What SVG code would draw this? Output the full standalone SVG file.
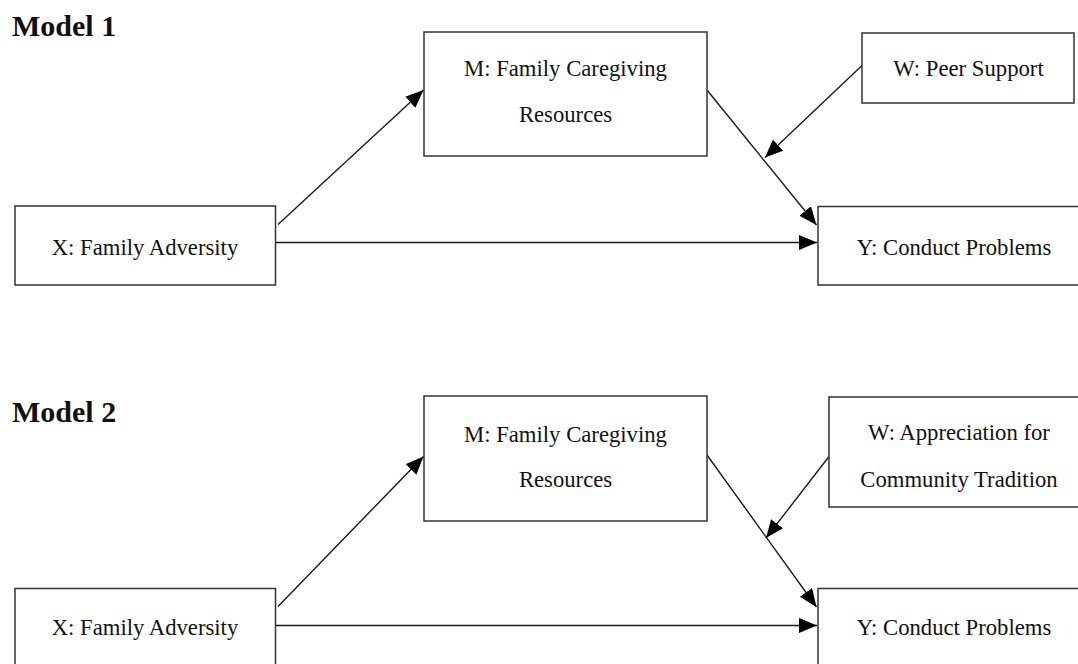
<svg xmlns="http://www.w3.org/2000/svg" width="1078" height="664" viewBox="0 0 1078 664">
<defs>
<style>
.box{fill:#fff;stroke:#333;stroke-width:1.5}
.lbl{font-family:"Liberation Serif","Times New Roman",serif;font-size:22.7px;fill:#111;text-anchor:middle}
.ttl{font-family:"Liberation Serif","Times New Roman",serif;font-size:30px;font-weight:bold;fill:#111}
.edge{stroke:#1a1a1a;stroke-width:1.4;fill:none;marker-end:url(#ah)}
</style>
<marker id="ah" markerUnits="userSpaceOnUse" markerWidth="19" markerHeight="16" refX="18" refY="7.5" orient="auto">
<path d="M0,0 L18,7.5 L0,15 z" fill="#000"/>
</marker>
</defs>
<rect width="1078" height="664" fill="#fff"/>
<text class="ttl" x="12" y="35.5">Model 1</text>
<text class="ttl" x="12" y="421.5">Model 2</text>

<g id="connectors">
<line class="edge" x1="278" y1="224.5" x2="423.5" y2="90"/>
<line class="edge" x1="276" y1="242.5" x2="817" y2="242.5"/>
<line class="edge" x1="707" y1="90" x2="816.5" y2="225"/>
<line class="edge" x1="862" y1="65.5" x2="765" y2="157.5"/>

<line class="edge" x1="278" y1="606.5" x2="423.5" y2="456.5"/>
<line class="edge" x1="276" y1="625.5" x2="817" y2="625.5"/>
<line class="edge" x1="707" y1="455" x2="816.5" y2="607"/>
<line class="edge" x1="829" y1="456.5" x2="766" y2="538"/>
</g>

<g id="m1_x"><rect class="box" x="15" y="206" width="260.5" height="79"/><text class="lbl" x="145" y="255">X: Family Adversity</text></g>
<g id="m1_m"><rect class="box" x="424" y="32" width="283" height="124"/><text class="lbl" x="565.5" y="75.5">M: Family Caregiving</text><text class="lbl" x="565.5" y="121.5">Resources</text></g>
<g id="m1_w"><rect class="box" x="862" y="33" width="212" height="70"/><text class="lbl" x="968.5" y="76">W: Peer Support</text></g>
<g id="m1_y"><rect class="box" x="818" y="206.5" width="270" height="78.5"/><text class="lbl" x="954" y="255">Y: Conduct Problems</text></g>

<g id="m2_x"><rect class="box" x="15" y="588.5" width="260.5" height="90"/><text class="lbl" x="145" y="635">X: Family Adversity</text></g>
<g id="m2_m"><rect class="box" x="424" y="396" width="283" height="125"/><text class="lbl" x="565.5" y="441.5">M: Family Caregiving</text><text class="lbl" x="565.5" y="486.5">Resources</text></g>
<g id="m2_w"><rect class="box" x="829" y="397" width="270" height="110"/><text class="lbl" x="959" y="440">W: Appreciation for</text><text class="lbl" x="959" y="486.5">Community Tradition</text></g>
<g id="m2_y"><rect class="box" x="818" y="588.5" width="270" height="90"/><text class="lbl" x="954" y="635">Y: Conduct Problems</text></g>
</svg>
